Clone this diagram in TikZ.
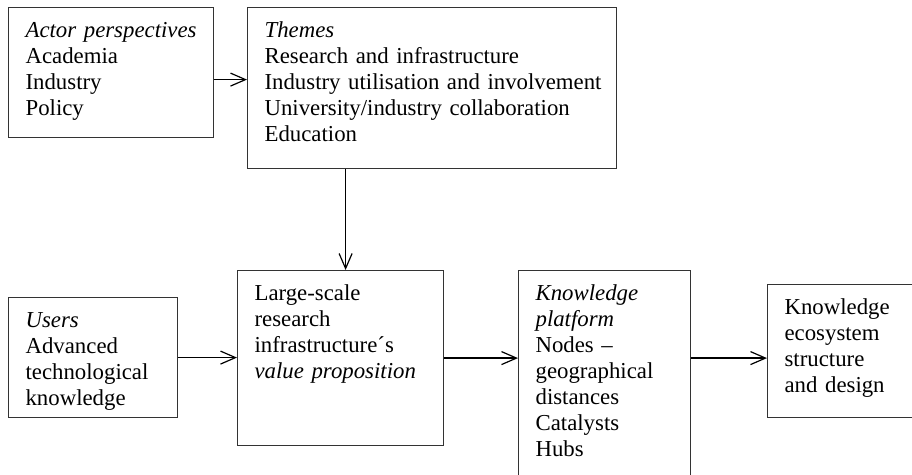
\documentclass[tikz,border=0pt]{standalone}
\usepackage{fontspec}
\setmainfont{Liberation Serif}
\usetikzlibrary{arrows.meta}
\usetikzlibrary{positioning}

\tikzset{
  box/.style={draw=black!80, line width=0.6pt, anchor=north west, align=left,
    inner xsep=8.5pt, inner ysep=0pt, text height=15pt,
    font=\fontsize{11.4pt}{13pt}\selectfont},
  arr/.style={-{Straight Barb[length=7.5pt,width=6.5pt]}, line width=0.6pt}
}

\begin{document}
\begin{tikzpicture}[x=0.5pt,y=-0.5pt]
    \useasboundingbox (0,0) rectangle (912,475);

    \node[box,text width=85.5pt,text depth=50pt] (actor) at (8,7)
      {\textit{Actor perspectives}\\Academia\\Industry\\Policy};
    \node[box,text width=167.5pt,text depth=65.5pt] (themes) at (247,7)
      {\textit{Themes}\\Research and infrastructure\\\mbox{Industry utilisation and involvement}\\University/industry collaboration\\Education};
    \node[box,text width=67.5pt,text depth=45pt] (users) at (8,297)
      {\textit{Users}\\Advanced\\technological\\knowledge};
    \node[box,text width=86pt,text depth=72.5pt] (ls) at (237,270)
      {Large-scale\\research\\infrastructure´s\\\textit{value proposition}};
    \node[box,text width=69pt,text depth=90pt] (kp) at (518,270)
      {\textit{Knowledge}\\\textit{platform}\\Nodes –\\geographical\\distances\\Catalysts\\Hubs};
    \node[box,text width=59.5pt,text depth=51.5pt] (eco) at (767,284)
      {Knowledge\\ecosystem\\structure\\and design};

    \draw[arr] ([yshift=-3.5pt]actor.east) -- ([yshift=-3.5pt]actor.east -| themes.west);
    \draw[arr] ([xshift=2.5pt]ls.north |- themes.south) -- ([xshift=2.5pt]ls.north);
    \draw[arr] (users.east) -- (users.east -| ls.west);
    \draw[arr] (ls.east) -- (ls.east -| kp.west);
    \draw[arr] (kp.east |- ls.east) -- (ls.east -| eco.west);
  \end{tikzpicture}
\end{document}
